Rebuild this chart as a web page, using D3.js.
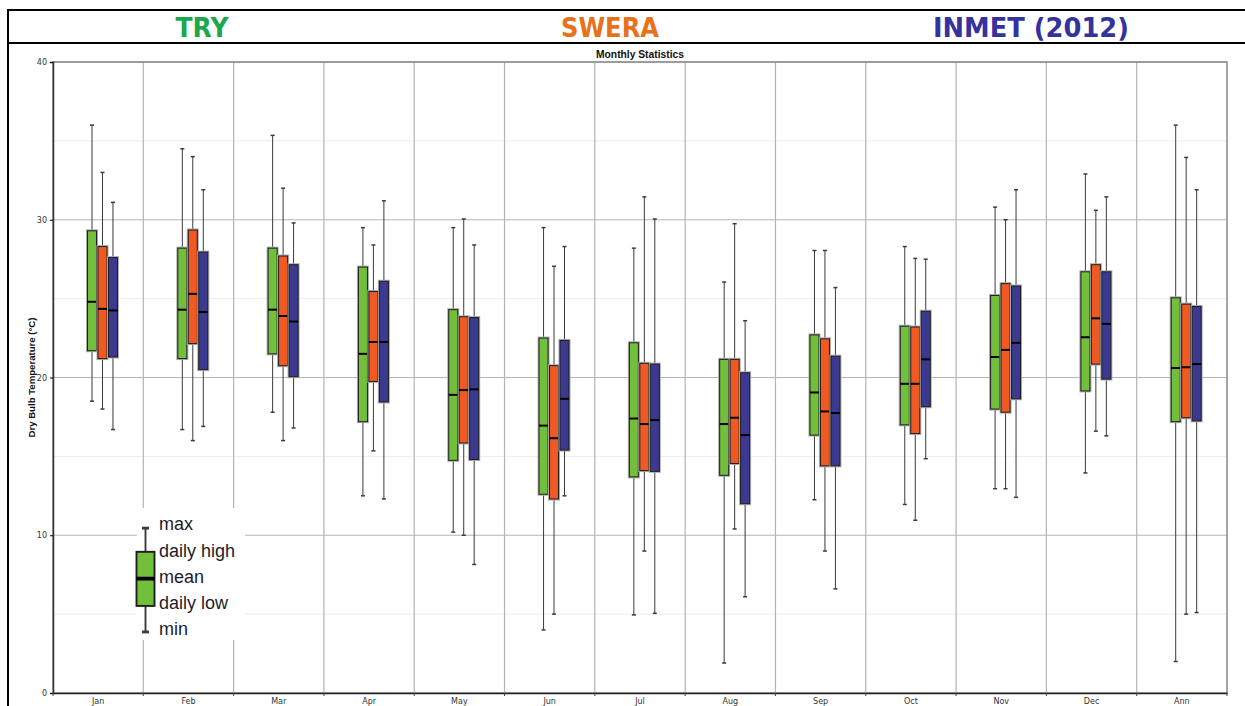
<!DOCTYPE html>
<html>
<head>
<meta charset="utf-8">
<script src="https://cdn.jsdelivr.net/npm/d3@7"></script>
<style>
  body { margin: 0; background: #fff; }
  svg { display: block; }
</style>
</head>
<body>
<svg id="chart" width="1245" height="706"></svg>
<script>
// categories
const months = ['Jan', 'Feb', 'Mar', 'Apr', 'May', 'Jun', 'Jul', 'Aug', 'Sep', 'Oct', 'Nov', 'Dec', 'Ann'];
const yTicks = [0, 10, 20, 30, 40];
const yMinorTicks = [5, 15, 25, 35];

// each row: [max, daily high, mean, daily low, min]
const tryStats = [
  [36.0, 29.3, 24.8, 21.7, 18.5],
  [34.5, 28.2, 24.3, 21.2, 16.7],
  [35.35, 28.2, 24.3, 21.5, 17.8],
  [29.5, 27.0, 21.5, 17.2, 12.5],
  [29.5, 24.3, 18.9, 14.75, 10.2],
  [29.5, 22.5, 16.95, 12.6, 4.0],
  [28.2, 22.2, 17.4, 13.7, 4.95],
  [26.05, 21.15, 17.05, 13.8, 1.9],
  [28.05, 22.7, 19.05, 16.35, 12.25],
  [28.3, 23.25, 19.6, 17.0, 11.95],
  [30.8, 25.2, 21.3, 18.0, 12.95],
  [32.9, 26.7, 22.55, 19.15, 13.95],
  [36.0, 25.05, 20.6, 17.2, 2.0]
];
const sweraStats = [
  [33.0, 28.3, 24.35, 21.2, 18.0],
  [34.0, 29.35, 25.3, 22.15, 16.0],
  [32.0, 27.7, 23.9, 20.75, 16.0],
  [28.4, 25.45, 22.25, 19.75, 15.35],
  [30.05, 23.85, 19.2, 15.85, 10.0],
  [27.05, 20.75, 16.15, 12.3, 5.0],
  [31.45, 20.9, 17.05, 14.1, 9.0],
  [29.75, 21.15, 17.45, 14.55, 10.4],
  [28.05, 22.45, 17.85, 14.4, 9.0],
  [27.55, 23.2, 19.6, 16.45, 10.95],
  [30.0, 25.95, 21.75, 17.8, 12.95],
  [30.6, 27.15, 23.75, 20.85, 16.6],
  [33.95, 24.65, 20.65, 17.45, 5.0]
];
const inmetStats = [
  [31.1, 27.6, 24.25, 21.3, 16.7],
  [31.9, 27.95, 24.15, 20.5, 16.9],
  [29.8, 27.15, 23.55, 20.05, 16.8],
  [31.2, 26.1, 22.25, 18.45, 12.3],
  [28.4, 23.8, 19.25, 14.8, 8.15],
  [28.3, 22.35, 18.65, 15.4, 12.5],
  [30.05, 20.85, 17.3, 14.05, 5.05],
  [23.6, 20.3, 16.35, 12.0, 6.1],
  [25.7, 21.35, 17.75, 14.4, 6.6],
  [27.5, 24.2, 21.15, 18.15, 14.85],
  [31.9, 25.8, 22.2, 18.65, 12.4],
  [31.45, 26.7, 23.4, 19.9, 16.3],
  [31.9, 24.5, 20.85, 17.25, 5.1]
];
const seriesNames = ['TRY', 'SWERA', 'INMET (2012)'];
const legendLabels = ['max', 'daily high', 'mean', 'daily low', 'min'];
const legendSample = [10.45, 8.95, 7.25, 5.52, 3.87];

const series = [
  { name: seriesNames[0], stats: tryStats, fill: '#72bf3b', head: '#1ba84c' },
  { name: seriesNames[1], stats: sweraStats, fill: '#f05a22', head: '#e8711c' },
  { name: seriesNames[2], stats: inmetStats, fill: '#3c3990', head: '#34329c' }
];

const svg = d3.select('#chart');
const margin = { left: 53, right: 18, top: 62, bottom: 13 };
const width = +svg.attr('width');
const height = +svg.attr('height');

// page frame and header band
svg.append('line').attr('x1', 8).attr('x2', width).attr('y1', 10).attr('y2', 10)
  .attr('stroke', '#000').attr('stroke-width', 2);
svg.append('line').attr('x1', 8).attr('x2', width).attr('y1', 43).attr('y2', 43)
  .attr('stroke', '#000').attr('stroke-width', 2);
svg.append('line').attr('x1', 8).attr('x2', 8).attr('y1', 9).attr('y2', height)
  .attr('stroke', '#000').attr('stroke-width', 2);

const headX = [202, 610, 1031];
const headW = [53, 98, 196];
svg.selectAll('.head').data(series).join('text')
  .attr('class', 'head')
  .attr('x', (d, i) => headX[i])
  .attr('y', 37)
  .attr('text-anchor', 'middle')
  .attr('font-family', 'DejaVu Sans, sans-serif')
  .attr('font-weight', 'bold')
  .attr('font-size', 27)
  .attr('textLength', (d, i) => headW[i])
  .attr('lengthAdjust', 'spacingAndGlyphs')
  .attr('fill', d => d.head)
  .text(d => d.name);

// scales
const x = d3.scaleBand().domain(months).range([margin.left, width - margin.right]);
const y = d3.scaleLinear().domain([0, 40]).range([height - margin.bottom, margin.top]);
const bw = x.bandwidth();
const offsets = [0.432, 0.548, 0.664];

// grid
const grid = svg.append('g');
grid.selectAll('.minor').data(yMinorTicks).join('line')
  .attr('x1', margin.left).attr('x2', width - margin.right)
  .attr('y1', d => y(d)).attr('y2', d => y(d))
  .attr('stroke', '#ececec').attr('stroke-width', 1);
grid.selectAll('.major').data(yTicks.slice(1)).join('line')
  .attr('x1', margin.left).attr('x2', width - margin.right)
  .attr('y1', d => y(d)).attr('y2', d => y(d))
  .attr('stroke', '#b4b4b4').attr('stroke-width', 1.2);
grid.selectAll('.vline').data(months.slice(1)).join('line')
  .attr('x1', d => x(d)).attr('x2', d => x(d))
  .attr('y1', margin.top).attr('y2', height - margin.bottom)
  .attr('stroke', '#b4b4b4').attr('stroke-width', 1.2);
// plot border
svg.append('rect')
  .attr('x', margin.left).attr('y', margin.top)
  .attr('width', width - margin.left - margin.right)
  .attr('height', height - margin.top - margin.bottom)
  .attr('fill', 'none').attr('stroke', '#888').attr('stroke-width', 1.5);

// axes
const yAxis = d3.axisLeft(y).tickValues(yTicks).tickSize(3).tickFormat(d3.format('d'));
const yAxisG = svg.append('g').attr('transform', `translate(${margin.left},0)`).call(yAxis);
yAxisG.select('.domain').attr('stroke', '#333').attr('stroke-width', 1.5);
yAxisG.selectAll('text').attr('font-family', 'DejaVu Sans, sans-serif').attr('font-size', 8).attr('fill', '#333');

const xAxis = d3.axisBottom(x).tickSize(0).tickPadding(5);
const xAxisG = svg.append('g').attr('transform', `translate(0,${height - margin.bottom})`).call(xAxis);
xAxisG.select('.domain').attr('stroke', '#222').attr('stroke-width', 1.5);
xAxisG.selectAll('text').attr('font-family', 'DejaVu Sans, sans-serif').attr('font-size', 8).attr('fill', '#333');
xAxisG.selectAll('.edge').data(months.concat(['end'])).join('line')
  .attr('x1', (d, i) => margin.left + i * bw).attr('x2', (d, i) => margin.left + i * bw)
  .attr('y1', 0).attr('y2', 3).attr('stroke', '#444');

svg.append('text')
  .attr('transform', `translate(35,${y(20)}) rotate(-90)`)
  .attr('text-anchor', 'middle')
  .attr('font-family', 'Liberation Sans, Arial, sans-serif')
  .attr('font-weight', 'bold').attr('font-size', 9.5)
  .attr('textLength', 120)
  .attr('lengthAdjust', 'spacingAndGlyphs')
  .attr('fill', '#111')
  .text('Dry Bulb Temperature (°C)');

svg.append('text')
  .attr('x', (margin.left + width - margin.right) / 2).attr('y', 58)
  .attr('text-anchor', 'middle')
  .attr('font-family', 'Liberation Sans, Arial, sans-serif')
  .attr('font-weight', 'bold').attr('font-size', 10.5)
  .attr('textLength', 88)
  .attr('lengthAdjust', 'spacingAndGlyphs')
  .attr('fill', '#111')
  .text('Monthly Statistics');

// box plots
const drawBox = (g, cx, s, fill, opts) => {
  const { w, stroke, cap, halo } = opts;
  const [mx, hi, mean, lo, mn] = s;
  g.append('line').attr('x1', cx).attr('x2', cx).attr('y1', y(mx)).attr('y2', y(mn))
    .attr('stroke', '#3a3a3a').attr('stroke-width', stroke);
  [mx, mn].forEach(v => g.append('line')
    .attr('x1', cx - cap / 2).attr('x2', cx + cap / 2).attr('y1', y(v)).attr('y2', y(v))
    .attr('stroke', '#3a3a3a').attr('stroke-width', stroke * 1.5));
  if (halo) {
    g.append('rect').attr('x', cx - w / 2 - 0.5).attr('y', y(hi) - 0.5)
      .attr('width', w + 1).attr('height', y(lo) - y(hi) + 1)
      .attr('fill', 'none').attr('stroke', '#aaa').attr('stroke-width', 2);
  }
  g.append('rect').attr('x', cx - w / 2).attr('y', y(hi))
    .attr('width', w).attr('height', y(lo) - y(hi))
    .attr('fill', fill).attr('stroke', '#1e1e1e').attr('stroke-width', stroke);
  g.append('line').attr('x1', cx - w / 2).attr('x2', cx + w / 2).attr('y1', y(mean)).attr('y2', y(mean))
    .attr('stroke', '#000').attr('stroke-width', 2 * stroke);
};

const boxesG = svg.append('g');
series.forEach((ser, si) => {
  ser.stats.forEach((s, mi) => {
    drawBox(boxesG, x(months[mi]) + bw * offsets[si], s, ser.fill, { w: 9, stroke: 1, cap: 4, halo: true });
  });
});

// legend
const legendG = svg.append('g');
legendG.append('rect').attr('x', 137).attr('y', 508).attr('width', 108).attr('height', 132).attr('fill', '#fff');
drawBox(legendG, 145.5, legendSample, '#72bf3b', { w: 18, stroke: 1.9, cap: 7, halo: false });
legendG.selectAll('.ltext').data(legendLabels).join('text')
  .attr('x', 159)
  .attr('y', (d, i) => 524 + i * 26.2)
  .attr('dy', '0.35em')
  .attr('font-family', 'Liberation Sans, Arial, sans-serif')
  .attr('font-size', 18)
  .attr('fill', '#1c1c2a')
  .text(d => d);
</script>
</body>
</html>
